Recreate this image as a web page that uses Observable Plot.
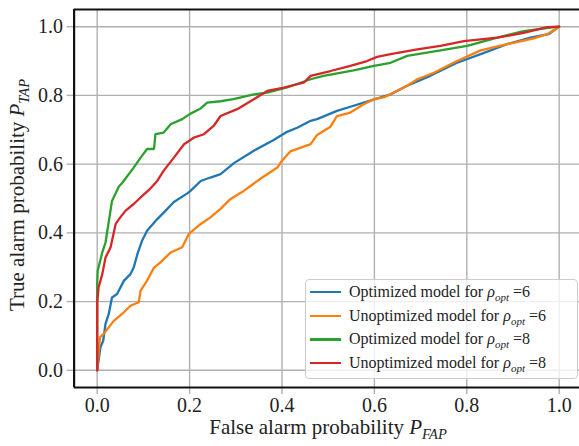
<!DOCTYPE html>
<html><head><meta charset="utf-8">
<script src="https://cdn.jsdelivr.net/npm/d3@7"></script>
<script src="https://cdn.jsdelivr.net/npm/@observablehq/plot@0.6"></script>
<style>
html,body{margin:0;padding:0;background:#fff;overflow:hidden;}
#wrap{position:relative;width:579px;height:446px;font-family:"Liberation Serif",serif;}
#legend{position:absolute;left:305px;top:279px;width:273px;height:100px;box-sizing:border-box;
  background:rgba(255,255,255,0.8);border:1px solid #cccccc;border-radius:4px;}
.row{position:absolute;left:0;height:20px;font-size:16px;color:#222;white-space:nowrap;}
.row .sw{position:absolute;left:4px;top:9px;width:31px;height:2.4px;}
.row .tx{position:absolute;left:43px;top:0;line-height:20px;}
.row sub{font-size:11px;vertical-align:-4px;line-height:0;}
</style></head>
<body><div id="wrap"><div id="chart"></div><div id="legend"></div></div>
<script>
const seriesNames = ["Optimized model for ρopt=6","Unoptimized model for ρopt=6","Optimized model for ρopt=8","Unoptimized model for ρopt=8"];
const seriesColors = ["#1f77b4","#ff7f0e","#2ca02c","#d62728"];
const legendPrefix = ["Optimized model for","Unoptimized model for","Optimized model for","Unoptimized model for"];
const legendRho = ["6","6","8","8"];
const tickValues = [0,0.2,0.4,0.6,0.8,1.0];

const opt6X = [0,0.007,0.013,0.018,0.025,0.032,0.043,0.058,0.072,0.079,0.087,0.097,0.108,0.130,0.144,0.166,0.195,0.202,0.224,0.245,0.267,0.296,0.339,0.382,0.411,0.433,0.462,0.476,0.519,0.548,0.577,0.635,0.671,0.721,0.779,0.830,0.887,0.938,0.977,1.0];
const opt6Y = [0,0.067,0.086,0.135,0.164,0.212,0.222,0.261,0.280,0.299,0.338,0.377,0.406,0.440,0.459,0.490,0.515,0.522,0.551,0.561,0.571,0.603,0.639,0.670,0.694,0.706,0.726,0.731,0.755,0.767,0.779,0.803,0.828,0.857,0.895,0.920,0.949,0.968,0.978,1.0];
const unopt6X = [0,0.003,0.006,0.014,0.025,0.036,0.054,0.072,0.090,0.094,0.108,0.123,0.137,0.159,0.184,0.198,0.224,0.245,0.267,0.288,0.317,0.354,0.390,0.400,0.418,0.462,0.476,0.505,0.519,0.548,0.577,0.599,0.620,0.671,0.693,0.729,0.779,0.830,0.887,0.945,0.974,1.0];
const unopt6Y = [0,0.05,0.096,0.106,0.125,0.144,0.164,0.188,0.198,0.232,0.261,0.299,0.314,0.343,0.358,0.396,0.426,0.445,0.470,0.498,0.522,0.558,0.590,0.610,0.637,0.658,0.685,0.709,0.740,0.750,0.774,0.789,0.794,0.828,0.847,0.866,0.900,0.931,0.949,0.966,0.978,1.0];
const opt8X = [0,0,0.001,0.011,0.018,0.022,0.032,0.047,0.054,0.079,0.094,0.108,0.123,0.126,0.144,0.159,0.184,0.202,0.224,0.238,0.267,0.295,0.339,0.368,0.411,0.462,0.490,0.555,0.599,0.635,0.671,0.743,0.801,0.866,0.923,0.981,1.0];
const opt8Y = [0,0.25,0.29,0.343,0.372,0.406,0.493,0.535,0.545,0.590,0.619,0.644,0.644,0.687,0.692,0.716,0.731,0.747,0.762,0.779,0.783,0.789,0.803,0.808,0.823,0.847,0.857,0.873,0.886,0.895,0.915,0.931,0.944,0.968,0.987,0.997,1.0];
const unopt8X = [0,0,0.003,0.011,0.018,0.029,0.040,0.050,0.061,0.079,0.094,0.112,0.130,0.144,0.166,0.188,0.209,0.231,0.252,0.267,0.303,0.339,0.368,0.404,0.447,0.462,0.505,0.548,0.584,0.606,0.635,0.693,0.743,0.794,0.866,0.923,0.974,1.0];
const unopt8Y = [0,0.198,0.241,0.280,0.328,0.358,0.426,0.445,0.464,0.484,0.503,0.525,0.551,0.581,0.619,0.658,0.677,0.687,0.711,0.740,0.760,0.789,0.813,0.823,0.837,0.857,0.871,0.886,0.900,0.912,0.920,0.934,0.944,0.958,0.968,0.982,0.999,1.0];

const allX = [opt6X, unopt6X, opt8X, unopt8X];
const allY = [opt6Y, unopt6Y, opt8Y, unopt8Y];
const data = [];
allX.forEach((xs, s) => xs.forEach((x, i) => data.push({series: seriesNames[s], fpr: x, tpr: allY[s][i]})));

const fmt = d3.format(".1f");
const font = "Liberation Serif";
const chart = Plot.plot({
  width: 579, height: 446,
  marginLeft: 73.6, marginRight: 0, marginTop: 9, marginBottom: 59,
  x: {domain: [-0.05, 1.044]},
  y: {domain: [-0.05, 1.05]},
  color: {domain: seriesNames, range: seriesColors},
  style: {fontFamily: font, fontSize: "20px", color: "#222", background: "#fff"},
  marks: [
    Plot.gridX(tickValues, {stroke: "#b0b0b0", strokeOpacity: 1, strokeWidth: 1.4}),
    Plot.gridY(tickValues, {stroke: "#b0b0b0", strokeOpacity: 1, strokeWidth: 1.4}),
    Plot.line(data, {x: "fpr", y: "tpr", z: "series", stroke: "series", strokeWidth: 2.3, strokeLinejoin: "miter"}),
    Plot.axisX(tickValues, {tickSize: 7, tickPadding: 3, stroke: "#b0b0b0", strokeWidth: 1.4, strokeOpacity: 1, fill: "#222", tickFormat: fmt, label: null, fontSize: 20}),
    Plot.axisY(tickValues, {tickSize: 7, tickPadding: 4, stroke: "#b0b0b0", strokeWidth: 1.4, strokeOpacity: 1, fill: "#222", tickFormat: fmt, label: null, fontSize: 20}),
    Plot.ruleX([-0.05], {stroke: "#111", strokeWidth: 2.2}),
    Plot.ruleY([-0.05, 1.05], {stroke: "#111", strokeWidth: 2.2})
  ]
});
document.getElementById("chart").appendChild(chart);

// axis titles with math-style subscripts
const svg = d3.select(chart);
const xl = svg.append("text").attr("x", 328).attr("y", 434).attr("text-anchor", "middle")
  .attr("font-family", font).attr("font-size", 21).attr("fill", "#222");
xl.append("tspan").text("False alarm probability ");
xl.append("tspan").attr("font-style", "italic").text("P");
xl.append("tspan").attr("font-style", "italic").attr("font-size", 14.5).attr("dy", 5).text("FAP");

const yl = svg.append("text").attr("transform", "translate(23.5,195) rotate(-90)").attr("text-anchor", "middle")
  .attr("font-family", font).attr("font-size", 21).attr("fill", "#222");
yl.append("tspan").text("True alarm probability ");
yl.append("tspan").attr("font-style", "italic").text("P");
yl.append("tspan").attr("font-style", "italic").attr("font-size", 14.5).attr("dy", 5).text("TAP");

// legend
const leg = document.getElementById("legend");
seriesNames.forEach((name, i) => {
  const row = document.createElement("div");
  row.className = "row";
  row.style.top = (2 + i * 23.7) + "px";
  row.innerHTML = `<div class="sw" style="background:${seriesColors[i]}"></div>` +
    `<div class="tx">${legendPrefix[i]} <i>ρ</i><sub><i>opt</i></sub> =${legendRho[i]}</div>`;
  leg.appendChild(row);
});
</script>
</body></html>
